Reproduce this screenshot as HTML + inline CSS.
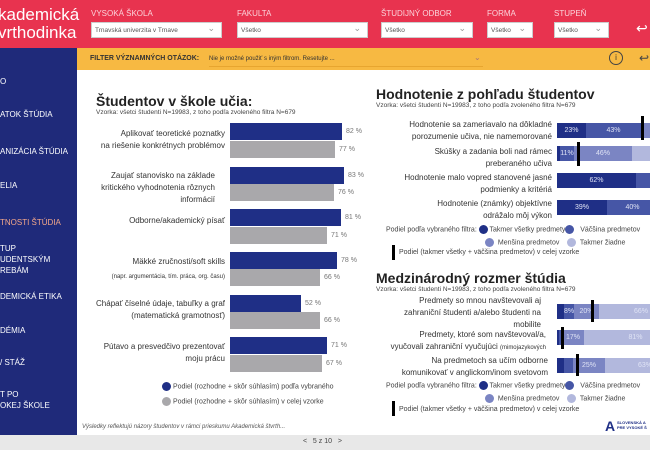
<!DOCTYPE html>
<html><head><meta charset="utf-8"><style>
*{margin:0;padding:0;box-sizing:border-box}
body{width:650px;height:450px;overflow:hidden;position:relative;background:#fff;font-family:"Liberation Sans",sans-serif;color:#333}
.a{position:absolute}
.hdr{left:0;top:0;width:650px;height:48px;background:#e8334f}
.logo{left:-2px;top:6px;color:#fff;font-size:17px;line-height:18px}
.fl{color:#fbd3da;font-size:8px;top:9px}
.dd{top:22px;height:16px;background:#fff;border:1px solid #ccc;font-size:6.5px;padding:4px 3px;color:#555}
.dd:after{content:"⌄";position:absolute;right:6px;top:0;color:#999;font-size:9px}
.nav{left:0;top:48px;width:77px;height:387px;background:#1f2a7a}
.ni{left:0;color:#fff;font-size:8px;line-height:11px}
.ybar{left:77px;top:48px;width:573px;height:22px;background:#f7b942}
.foot{left:0;top:435px;width:650px;height:15px;background:#e8e8e8}
.ttl{font-weight:bold;font-size:14px;color:#222}
.sub{font-size:6.5px;color:#444}
.lab{font-size:8px;text-align:right;line-height:12px;color:#333}
.bb{background:#1f2f86;height:17px;left:230px}
.gb{background:#a9a8ab;height:17px;left:230px}
.pv{font-size:7px;color:#777}
.row{left:557px;height:15px;display:flex;overflow:hidden;width:93px}
.row div{height:15px;color:#dfe3f5;font-size:7px;text-align:center;line-height:15px;flex:none}
.c1{background:#1f2f86}.c2{background:#4656a6}.c3{background:#7b85c3}.c4{background:#b2b8dd}
.mk{width:3px;background:#000}
.leg{font-size:7px;color:#444}
.dot{display:inline-block;width:9px;height:9px;border-radius:50%;vertical-align:middle}
</style></head><body>
<div class="a hdr"></div>
<div class="a logo">kademická<br>vrthodinka</div>
<div class="a fl" style="left:91px">VYSOKÁ ŠKOLA</div>
<div class="a dd" style="left:91px;width:131px">Trnavská univerzita v Trnave</div>
<div class="a fl" style="left:237px">FAKULTA</div>
<div class="a dd" style="left:237px;width:131px">Všetko</div>
<div class="a fl" style="left:381px">ŠTUDIJNÝ ODBOR</div>
<div class="a dd" style="left:381px;width:92px">Všetko</div>
<div class="a fl" style="left:487px">FORMA</div>
<div class="a dd" style="left:487px;width:46px">Všetko</div>
<div class="a fl" style="left:554px">STUPEŇ</div>
<div class="a dd" style="left:554px;width:55px">Všetko</div>
<div class="a" style="left:636px;top:20px;color:#fff;font-size:14px">↩</div>
<div class="a nav"></div>
<div class="a ni" style="top:76px">O</div>
<div class="a ni" style="top:109px">ATOK ŠTÚDIA</div>
<div class="a ni" style="top:146px">ANIZÁCIA ŠTÚDIA</div>
<div class="a ni" style="top:180px">ELIA</div>
<div class="a ni" style="top:217px;color:#f3a78a">TNOSTI ŠTÚDIA</div>
<div class="a ni" style="top:243px">TUP<br>UDENTSKÝM<br>REBÁM</div>
<div class="a ni" style="top:291px">DEMICKÁ ETIKA</div>
<div class="a ni" style="top:325px">DÉMIA</div>
<div class="a ni" style="top:357px">/ STÁŽ</div>
<div class="a ni" style="top:389px">T PO<br>OKEJ ŠKOLE</div>
<div class="a ybar"></div>
<div class="a" style="left:90px;top:55px;font-size:7px;font-weight:bold;color:#333">FILTER VÝZNAMNÝCH OTÁZOK:</div>
<div class="a" style="left:209px;top:51px;width:274px;height:16px;border-bottom:1px solid #e7a52f;font-size:6px;padding-top:5px;color:#333">Nie je možné použiť s iným filtrom. Resetujte ...</div>
<div class="a" style="left:474px;top:53px;font-size:8px;color:#a77">⌄</div>
<div class="a" style="left:609px;top:51px;width:14px;height:14px;border:1px solid #444;border-radius:50%;font-size:8px;text-align:center;line-height:12px">i</div>
<div class="a" style="left:639px;top:51px;font-size:12px;color:#444">↩</div>

<div class="a ttl" style="left:96px;top:93px">Študentov v škole učia:</div>
<div class="a sub" style="left:96px;top:109px">Vzorka: všetci študenti N=19983, z toho podľa zvoleného filtra N=679</div>
<div class="a lab" style="left:80px;width:145px;top:128px">Aplikovať teoretické poznatky<br>na riešenie konkrétnych problémov</div>
<div class="a lab" style="left:80px;width:135px;top:170px">Zaujať stanovisko na základe<br>kritického vyhodnotenia rôznych<br>informácií</div>
<div class="a lab" style="left:80px;width:145px;top:215px">Odborne/akademický písať</div>
<div class="a lab" style="left:80px;width:145px;top:256px">Mäkké zručnosti/soft skills</div>
<div class="a lab" style="left:80px;width:145px;top:271px;font-size:6px">(napr. argumentácia, tím. práca, org. času)</div>
<div class="a lab" style="left:80px;width:145px;top:298px">Chápať číselné údaje, tabuľky a graf<br>(matematická gramotnosť)</div>
<div class="a lab" style="left:80px;width:145px;top:341px">Pútavo a presvedčivo prezentovať<br>moju prácu</div>
<div class="a bb" style="top:123px;width:112px"></div><div class="a pv" style="left:346px;top:128px">82 %</div>
<div class="a gb" style="top:141px;width:105px"></div><div class="a pv" style="left:339px;top:146px">77 %</div>
<div class="a bb" style="top:167px;width:114px"></div><div class="a pv" style="left:348px;top:172px">83 %</div>
<div class="a gb" style="top:184px;width:104px"></div><div class="a pv" style="left:338px;top:189px">76 %</div>
<div class="a bb" style="top:209px;width:111px"></div><div class="a pv" style="left:345px;top:214px">81 %</div>
<div class="a gb" style="top:227px;width:97px"></div><div class="a pv" style="left:331px;top:232px">71 %</div>
<div class="a bb" style="top:252px;width:107px"></div><div class="a pv" style="left:341px;top:257px">78 %</div>
<div class="a gb" style="top:269px;width:90px"></div><div class="a pv" style="left:324px;top:274px">66 %</div>
<div class="a bb" style="top:295px;width:71px"></div><div class="a pv" style="left:305px;top:300px">52 %</div>
<div class="a gb" style="top:312px;width:90px"></div><div class="a pv" style="left:324px;top:317px">66 %</div>
<div class="a bb" style="top:337px;width:97px"></div><div class="a pv" style="left:331px;top:342px">71 %</div>
<div class="a gb" style="top:355px;width:92px"></div><div class="a pv" style="left:326px;top:360px">67 %</div>
<div class="a leg" style="left:162px;top:382px"><span class="dot" style="background:#1f2f86"></span> Podiel (rozhodne + skôr súhlasím) podľa vybraného</div>
<div class="a leg" style="left:162px;top:397px"><span class="dot" style="background:#a9a8ab"></span> Podiel (rozhodne + skôr súhlasím) v celej vzorke</div>
<div class="a" style="left:82px;top:424px;font-size:6px;font-style:italic;color:#555">Výsledky reflektujú názory študentov v rámci prieskumu Akademická štvrth...</div>

<div class="a ttl" style="left:376px;top:86px">Hodnotenie z pohľadu študentov</div>
<div class="a sub" style="left:376px;top:102px">Vzorka: všetci študenti N=19983, z toho podľa zvoleného filtra N=679</div>
<div class="a lab" style="left:380px;width:172px;top:119px">Hodnotenie sa zameriavalo na dôkladné<br>porozumenie učiva, nie namemorované</div>
<div class="a lab" style="left:380px;width:172px;top:146px">Skúšky a zadania boli nad rámec<br>preberaného učiva</div>
<div class="a lab" style="left:380px;width:172px;top:172px">Hodnotenie malo vopred stanovené jasné<br>podmienky a kritériá</div>
<div class="a lab" style="left:380px;width:172px;top:198px">Hodnotenie (známky) objektívne<br>odrážalo môj výkon</div>
<div class="a row" style="top:123px"><div class="c1" style="width:29px">23%</div><div class="c2" style="width:55px">43%</div><div class="c3" style="width:40px"></div></div>
<div class="a mk" style="left:641px;top:116px;height:24px"></div>
<div class="a row" style="top:146px"><div class="c1" style="width:3px"></div><div class="c2" style="width:14px">11%</div><div class="c3" style="width:58px">46%</div><div class="c4" style="width:40px"></div></div>
<div class="a mk" style="left:577px;top:142px;height:24px"></div>
<div class="a row" style="top:173px"><div class="c1" style="width:79px">62%</div><div class="c2" style="width:40px"></div></div>
<div class="a row" style="top:200px"><div class="c1" style="width:50px">39%</div><div class="c2" style="width:51px">40%</div></div>
<div class="a leg" style="left:386px;top:225px">Podiel podľa vybraného filtra: <span class="dot" style="background:#1f2f86"></span> Takmer všetky predmety<span class="dot" style="background:#4656a6"></span>&nbsp;&nbsp; Väčšina predmetov</div>
<div class="a leg" style="left:485px;top:238px"><span class="dot" style="background:#7b85c3"></span>&nbsp; Menšina predmetov &nbsp;&nbsp; <span class="dot" style="background:#b2b8dd"></span>&nbsp; Takmer žiadne</div>
<div class="a mk" style="left:392px;top:245px;height:15px"></div>
<div class="a leg" style="left:399px;top:249px">Podiel (takmer všetky + väčšina predmetov) v celej vzorke</div>

<div class="a ttl" style="left:376px;top:270px">Medzinárodný rozmer štúdia</div>
<div class="a sub" style="left:376px;top:286px">Vzorka: všetci študenti N=19983, z toho podľa zvoleného filtra N=679</div>
<div class="a lab" style="left:376px;width:165px;top:295px">Predmety so mnou navštevovali aj<br>zahraniční študenti a/alebo študenti na<br>mobilite</div>
<div class="a lab" style="left:376px;width:170px;top:329px">Predmety, ktoré som navštevoval/a,<br>vyučovali zahraniční vyučujúci <span style="font-size:6px">(mimojazykových</span></div>
<div class="a lab" style="left:376px;width:172px;top:355px">Na predmetoch sa učím odborne<br>komunikovať v anglickom/inom svetovom</div>
<div class="a row" style="top:304px"><div class="c1" style="width:7px"></div><div class="c2" style="width:10px">8%</div><div class="c3" style="width:25px">20%</div><div class="c4" style="width:84px">66%</div></div>
<div class="a mk" style="left:591px;top:300px;height:22px"></div>
<div class="a row" style="top:330px"><div class="c1" style="width:2px"></div><div class="c2" style="width:3px"></div><div class="c3" style="width:22px">17%</div><div class="c4" style="width:103px">81%</div></div>
<div class="a mk" style="left:561px;top:327px;height:22px"></div>
<div class="a row" style="top:358px"><div class="c1" style="width:7px"></div><div class="c2" style="width:9px"></div><div class="c3" style="width:32px">25%</div><div class="c4" style="width:80px">63%</div></div>
<div class="a mk" style="left:576px;top:354px;height:22px"></div>
<div class="a leg" style="left:386px;top:381px">Podiel podľa vybraného filtra: <span class="dot" style="background:#1f2f86"></span> Takmer všetky predmety<span class="dot" style="background:#4656a6"></span>&nbsp;&nbsp; Väčšina predmetov</div>
<div class="a leg" style="left:485px;top:394px"><span class="dot" style="background:#7b85c3"></span>&nbsp; Menšina predmetov &nbsp;&nbsp; <span class="dot" style="background:#b2b8dd"></span>&nbsp; Takmer žiadne</div>
<div class="a mk" style="left:392px;top:401px;height:15px"></div>
<div class="a leg" style="left:399px;top:406px">Podiel (takmer všetky + väčšina predmetov) v celej vzorke</div>
<div class="a" style="left:605px;top:418px;font-size:14px;font-weight:bold;color:#1f2f86">A</div>
<div class="a" style="left:617px;top:420px;font-size:4px;font-weight:bold;color:#1f2f86;line-height:5px">SLOVENSKÁ A<br>PRE VYSOKÉ Š</div>

<div class="a foot"></div>
<div class="a" style="left:303px;top:438px;font-size:7px;color:#444">&lt;&nbsp;&nbsp; 5 z 10 &nbsp;&nbsp;&gt;</div>
</body></html>
